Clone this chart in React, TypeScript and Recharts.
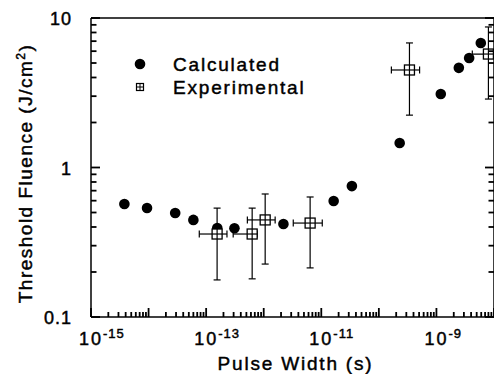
import { ScatterChart, Scatter, XAxis, YAxis, ErrorBar, Legend, Label } from "recharts";

const FONT = '"Liberation Sans", Arial, Helvetica, sans-serif';
const INK = "#000";
const TEXT_STROKE = { stroke: INK, strokeWidth: 0.45 };

// calculated threshold fluence (filled circles)
const calcPulse = [3.8e-15, 9.4e-15, 2.9e-14, 6.0e-14, 1.56e-13, 3.1e-13, 2.2e-12, 1.64e-11, 3.4e-11, 2.3e-10, 1.19e-9, 2.45e-9, 3.7e-9, 5.9e-9];
const calcFluence = [0.57, 0.536, 0.496, 0.446, 0.394, 0.392, 0.419, 0.597, 0.751, 1.46, 3.1, 4.64, 5.4, 6.81];

// experimental points with error ranges (open squares)
const expPulse = [1.55e-13, 6.3e-13, 1.06e-12, 6.4e-12, 3.4e-10, 8.0e-9];
const expPulseLow = [7.6e-14, 2.95e-13, 5.2e-13, 3.26e-12, 1.65e-10, 4.2e-9];
const expPulseHigh = [2.3e-13, 7.7e-13, 1.58e-12, 1.04e-11, 5.1e-10, 1.5e-8];
const expFluence = [0.359, 0.359, 0.446, 0.425, 4.49, 5.74];
const expFluenceLow = [0.177, 0.18, 0.226, 0.213, 2.24, 2.87];
const expFluenceHigh = [0.535, 0.535, 0.665, 0.635, 6.81, 8.71];

// axes
const xDecades = [-15, -14, -13, -12, -11, -10, -9];
const xLabelled = [-15, -13, -11, -9];
const yDecades = [-1, 0];
const yTickLabels: Record<string, string> = { "-1": "0.1", "0": "1", "1": "10" };
const steps = [1, 2, 3, 4, 5, 6, 7, 8, 9];

const buildTicks = (decades: number[]) => {
  const out: number[] = [];
  decades.forEach((d) => steps.forEach((m) => out.push(Number((m * Math.pow(10, d)).toPrecision(4)))));
  out.push(Math.pow(10, decades[decades.length - 1] + 1));
  return out;
};
const xTicks = buildTicks(xDecades);
const yTicks = buildTicks(yDecades);

const calcData = calcPulse.map((x, i) => ({ x, y: calcFluence[i] }));
const expData = expPulse.map((x, i) => ({
  x,
  y: expFluence[i],
  ex: [x - expPulseLow[i], expPulseHigh[i] - x],
  ey: [expFluence[i] - expFluenceLow[i], expFluenceHigh[i] - expFluence[i]],
}));

const decadeOf = (v: number) => {
  const lg = Math.log10(v);
  const r = Math.round(lg);
  return Math.abs(lg - r) < 1e-6 ? r : null;
};

const TW = 1.8;

const BottomTick = (p: any) => {
  const d = decadeOf(p.payload.value);
  const len = d !== null ? 9 : 5;
  return (
    <g>
      <line x1={p.x} x2={p.x} y1={p.y} y2={p.y - len} stroke={INK} strokeWidth={TW} />
      {d !== null && xLabelled.includes(d) && (
        <text x={p.x - 12} y={p.y + 28} fontFamily={FONT} fill={INK} {...TEXT_STROKE} fontSize={18} letterSpacing={2}>
          10
          <tspan dy={-7} fontSize={13} letterSpacing={1}>
            {String(d)}
          </tspan>
        </text>
      )}
    </g>
  );
};

const TopTick = (p: any) => {
  const d = decadeOf(p.payload.value);
  const len = d !== null ? 9 : 5;
  return (
    <g>
      <line x1={p.x} x2={p.x} y1={p.y} y2={p.y + len} stroke={INK} strokeWidth={TW} />
    </g>
  );
};

const LeftTick = (p: any) => {
  const d = decadeOf(p.payload.value);
  const len = d !== null ? 9 : 5.5;
  return (
    <g>
      <line x1={p.x} x2={p.x + len} y1={p.y} y2={p.y} stroke={INK} strokeWidth={TW} />
      {d !== null && (
        <text x={p.x - 19} y={p.y + 7} textAnchor="end" fontFamily={FONT} fill={INK} {...TEXT_STROKE} fontSize={18} letterSpacing={1}>
          {yTickLabels[String(d)]}
        </text>
      )}
    </g>
  );
};

const RightTick = (p: any) => {
  const d = decadeOf(p.payload.value);
  const len = d !== null ? 9 : 5.5;
  return (
    <g>
      <line x1={p.x} x2={p.x - len} y1={p.y} y2={p.y} stroke={INK} strokeWidth={TW} />
    </g>
  );
};

const Dot = (p: any) => <circle cx={p.cx} cy={p.cy} r={5.3} fill={INK} />;

const Box = (p: any) => (
  <g>
    <rect x={p.cx - 5} y={p.cy - 5} width={10} height={10} fill="#fff" stroke={INK} strokeWidth={1.3} />
    <line x1={p.cx - 5} x2={p.cx + 5} y1={p.cy} y2={p.cy} stroke={INK} strokeWidth={1.2} />
    <line x1={p.cx} x2={p.cx} y1={p.cy - 5} y2={p.cy + 5} stroke={INK} strokeWidth={1.2} />
  </g>
);

const LegendBox = () => (
  <div style={{ fontFamily: FONT, fontSize: 19, letterSpacing: 1.8, color: INK, lineHeight: "23px", WebkitTextStroke: "0.45px " + INK }}>
    <div style={{ display: "flex", alignItems: "center", height: 23 }}>
      <svg width={16} height={16}>
        <circle cx={8} cy={7} r={5.3} fill={INK} />
      </svg>
      <span style={{ marginLeft: 25 }}>Calculated</span>
    </div>
    <div style={{ display: "flex", alignItems: "center", height: 23 }}>
      <svg width={16} height={16}>
        <rect x={4.5} y={3.5} width={7} height={7} fill="#fff" stroke={INK} strokeWidth={1.2} />
        <line x1={4.5} x2={11.5} y1={7} y2={7} stroke={INK} strokeWidth={1} />
        <line x1={8} x2={8} y1={3.5} y2={10.5} stroke={INK} strokeWidth={1} />
      </svg>
      <span style={{ marginLeft: 25 }}>Experimental</span>
    </div>
  </div>
);

export default function App() {
  return (
    <div style={{ position: "absolute", left: 0, top: 0, width: 494, height: 374, overflow: "hidden", background: "#fff" }}>
      <ScatterChart width={520} height={374} margin={{ top: 17, right: 25, bottom: 0, left: 0 }}>
        <XAxis
          dataKey="x"
          type="number"
          scale="log"
          domain={[1e-15, 1e-8]}
          allowDataOverflow
          ticks={xTicks}
          interval={0}
          height={57}
          tickSize={0}
          tickMargin={0}
          tickLine={false}
          axisLine={{ stroke: INK, strokeWidth: 1.5 }}
          tick={(p: any) => <BottomTick {...p} />}
        >
          <Label
            content={(props: any) => {
              const vb = props.viewBox;
              return (
                <text x={vb.x + vb.width / 2 + 3} y={vb.y + 53} textAnchor="middle" fontFamily={FONT} fontSize={19} letterSpacing={1.8} fill={INK} {...TEXT_STROKE}>
                  Pulse Width (s)
                </text>
              );
            }}
          />
        </XAxis>
        <XAxis
          xAxisId="top"
          orientation="top"
          type="number"
          scale="log"
          domain={[1e-15, 1e-8]}
          allowDataOverflow
          ticks={xTicks}
          interval={0}
          height={1}
          tickSize={0}
          tickMargin={0}
          tickLine={false}
          axisLine={{ stroke: INK, strokeWidth: 1.5 }}
          tick={(p: any) => <TopTick {...p} />}
        />
        <YAxis
          dataKey="y"
          type="number"
          scale="log"
          domain={[0.1, 10]}
          allowDataOverflow
          ticks={yTicks}
          interval={0}
          width={91}
          tickSize={0}
          tickMargin={0}
          tickLine={false}
          axisLine={{ stroke: INK, strokeWidth: 1.5 }}
          tick={(p: any) => <LeftTick {...p} />}
        >
          <Label
            content={(props: any) => {
              const vb = props.viewBox;
              const cy = vb.y + vb.height / 2 + 6;
              return (
                <text x={32} y={cy} transform={`rotate(-90, 32, ${cy})`} textAnchor="middle" fontFamily={FONT} fontSize={19} letterSpacing={1.5} fill={INK} {...TEXT_STROKE}>
                  Threshold Fluence (J/cm
                  <tspan dy={-7} fontSize={12}>2</tspan>
                  <tspan dy={7}>)</tspan>
                </text>
              );
            }}
          />
        </YAxis>
        <YAxis
          yAxisId="right"
          orientation="right"
          type="number"
          scale="log"
          domain={[0.1, 10]}
          allowDataOverflow
          ticks={yTicks}
          interval={0}
          width={1}
          tickSize={0}
          tickMargin={0}
          tickLine={false}
          axisLine={{ stroke: INK, strokeWidth: 1.5 }}
          tick={(p: any) => <RightTick {...p} />}
        />
        <Legend
          layout="horizontal"
          verticalAlign="middle"
          align="center"
          wrapperStyle={{ position: "absolute", left: 132, top: 53, width: "auto" }}
          content={() => <LegendBox />}
        />
        <Scatter name="Calculated" data={calcData} shape={(p: any) => <Dot {...p} />} isAnimationActive={false} />
        <Scatter name="Experimental" data={expData} shape={(p: any) => <Box {...p} />} isAnimationActive={false}>
          <ErrorBar dataKey="ex" direction="x" width={3.5} stroke={INK} strokeWidth={1.2} />
          <ErrorBar dataKey="ey" direction="y" width={3.5} stroke={INK} strokeWidth={1.2} />
        </Scatter>
      </ScatterChart>
    </div>
  );
}
